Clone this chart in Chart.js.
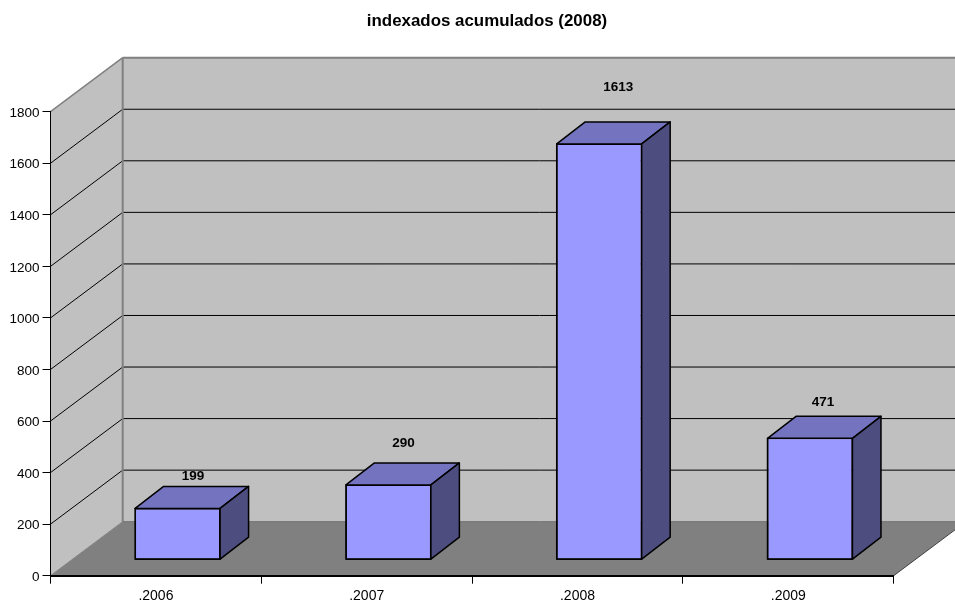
<!DOCTYPE html>
<html>
<head>
<meta charset="utf-8">
<title>indexados acumulados (2008)</title>
<script src="https://cdn.jsdelivr.net/npm/chart.js@4"></script>
<style>
  html, body { margin: 0; padding: 0; background: #fff; }
  canvas { display: block; }
</style>
</head>
<body>
<canvas id="chart" width="955" height="601"></canvas>
<script>
// ========== Data ==========
const chartTitle = 'indexados acumulados (2008)';
const categories = ['.2006', '.2007', '.2008', '.2009'];
const indexed = [199, 290, 1613, 471];
const axisMax = 1800;
const axisStep = 200;

// ========== Look ==========
const font = '"Liberation Sans", Arial, sans-serif';
const wallDepth = { x: 72.2, y: -54 };   // front plane to back wall
const barDepth = { x: 28.5, y: -22 };    // front of a bar to its back
const barShift = { x: 21.7, y: -16 };    // bars stand inside the floor
const labelNudge = [[15.5, -32], [15, -42], [19, -56.5], [13, -36.5]];  // excel puts these by hand

function poly(ctx, pts, fill, stroke, lw) {
  ctx.beginPath();
  pts.forEach((p, i) => i ? ctx.lineTo(p[0], p[1]) : ctx.moveTo(p[0], p[1]));
  ctx.closePath();
  if (fill) { ctx.fillStyle = fill; ctx.fill(); }
  if (stroke) { ctx.strokeStyle = stroke; ctx.lineWidth = lw; ctx.lineJoin = 'round'; ctx.stroke(); }
}

function line(ctx, x1, y1, x2, y2, color, lw) {
  ctx.beginPath();
  ctx.moveTo(x1, y1);
  ctx.lineTo(x2, y2);
  ctx.strokeStyle = color;
  ctx.lineWidth = lw;
  ctx.stroke();
}

// ========== Walls and floor ==========
const box3d = {
  id: 'box3d',
  beforeDraw(chart) {
    const { ctx, chartArea: a, scales: { y } } = chart;
    const dx = wallDepth.x, dy = wallDepth.y;
    const y0 = y.getPixelForValue(0), yTop = y.getPixelForValue(axisMax);
    ctx.save();
    poly(ctx, [[a.left + dx, yTop + dy], [a.right + dx, yTop + dy], [a.right + dx, y0 + dy], [a.left + dx, y0 + dy]], '#c0c0c0');
    poly(ctx, [[a.left, yTop], [a.left + dx, yTop + dy], [a.left + dx, y0 + dy], [a.left, y0]], '#c0c0c0');
    poly(ctx, [[a.left, y0], [a.left + dx, y0 + dy], [a.right + dx, y0 + dy], [a.right, y0]], '#808080');

    for (let v = axisStep; v < axisMax; v += axisStep) {
      const py = y.getPixelForValue(v);
      line(ctx, a.left, py, a.left + dx, py + dy, '#000', 1);
      line(ctx, a.left + dx, py + dy, a.right + dx, py + dy, '#000', 1);
    }
    line(ctx, a.left, yTop, a.left + dx, yTop + dy, '#808080', 1.5);
    line(ctx, a.left + dx, yTop + dy, a.right + dx, yTop + dy, '#808080', 2);
    line(ctx, a.left + dx, yTop + dy, a.left + dx, y0 + dy, '#808080', 2);
    line(ctx, a.left, y0, a.left + dx, y0 + dy, '#808080', 1);
    line(ctx, a.left + dx, y0 + dy, a.right + dx, y0 + dy, '#6e6e6e', 1);
    line(ctx, a.right, y0, a.right + dx, y0 + dy, '#404040', 1);

    ctx.fillStyle = '#000';
    ctx.font = 'bold 16.9px ' + font;
    ctx.textAlign = 'center';
    ctx.textBaseline = 'middle';
    ctx.fillText(chartTitle, 487, 21);
    ctx.restore();
  },
  beforeDatasetsDraw(chart) {
    chart.ctx.save();
    chart.ctx.translate(barShift.x, barShift.y);
  },
  afterDatasetsDraw(chart) {
    const { ctx } = chart;
    const dx = barDepth.x, dy = barDepth.y;
    chart.getDatasetMeta(0).data.forEach((bar) => {
      const l = bar.x - bar.width / 2, r = bar.x + bar.width / 2;
      poly(ctx, [[l, bar.y], [r, bar.y], [r, bar.base], [l, bar.base]], null, '#000', 1.5);
      poly(ctx, [[l, bar.y], [l + dx, bar.y + dy], [r + dx, bar.y + dy], [r, bar.y]], '#7373bf', '#000', 1.5);
      poly(ctx, [[r, bar.y], [r + dx, bar.y + dy], [r + dx, bar.base + dy], [r, bar.base]], '#4d4d80', '#000', 1.5);
    });
    ctx.restore();

    // value labels
    ctx.save();
    ctx.fillStyle = '#000';
    ctx.font = 'bold 13.5px ' + font;
    ctx.textAlign = 'center';
    ctx.textBaseline = 'middle';
    chart.getDatasetMeta(0).data.forEach((bar, i) => {
      ctx.fillText(String(indexed[i]),
        bar.x + barShift.x + labelNudge[i][0],
        bar.y + barShift.y + labelNudge[i][1]);
    });
    ctx.restore();
  }
};

// ========== Chart ==========
new Chart(document.getElementById('chart'), {
  type: 'bar',
  data: {
    labels: categories,
    datasets: [{
      data: indexed,
      backgroundColor: '#9999ff',
      borderColor: '#000',
      borderWidth: 1,
      borderSkipped: false,
      barPercentage: 0.403,
      categoryPercentage: 1,
      clip: false
    }]
  },
  options: {
    responsive: false,
    animation: false,
    events: [],
    layout: { padding: { left: 0, top: 111.7, right: 61.3, bottom: 0 } },
    plugins: { legend: { display: false }, title: { display: false }, tooltip: { enabled: false } },
    scales: {
      x: {
        offset: true,
        afterFit: s => { s.height = 25.3; },
        grid: { offset: true, drawOnChartArea: false, color: '#000', tickLength: 8 },
        border: { color: '#000', width: 2 },
        ticks: { color: '#000', font: { family: font, size: 14 }, padding: 4, maxRotation: 0 }
      },
      y: {
        min: 0,
        max: axisMax,
        afterFit: s => { s.width = 50.5; },
        grid: { drawOnChartArea: false, color: '#000', tickLength: 8 },
        border: { color: '#000', width: 1 },
        ticks: { stepSize: axisStep, color: '#000', font: { family: font, size: 13.5 }, padding: 3, labelOffset: 1.5, callback: v => String(v) }
      }
    }
  },
  plugins: [box3d]
});
</script>
</body>
</html>
